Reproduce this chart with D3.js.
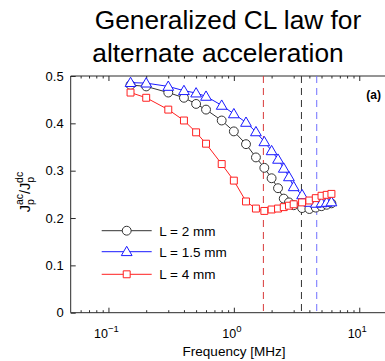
<!DOCTYPE html>
<html>
<head>
<meta charset="utf-8">
<script src="https://cdn.jsdelivr.net/npm/d3@7"></script>
<style>
  html, body { margin: 0; padding: 0; background: #fff; }
  svg { display: block; font-family: "Liberation Sans", Arial, Helvetica, sans-serif; }
</style>
</head>
<body>
<svg id="chart" width="385" height="361"></svg>
<script>
// Drive frequency (MHz) for every sample
const freq = [0.15, 0.2, 0.3, 0.4, 0.5, 0.6, 0.8, 1, 1.25, 1.5, 1.75, 2, 2.25, 2.5, 2.75, 3, 3.5, 4, 4.5, 5, 5.5, 6];

// Ratio Jp(ac)/Jp(dc) for each gap length
const ratioL2 = [0.481, 0.478, 0.465, 0.454, 0.441, 0.429, 0.406, 0.383, 0.356, 0.328, 0.306, 0.284, 0.263, 0.241, 0.233, 0.227, 0.221, 0.219, 0.222, 0.225, 0.228, 0.231];
const ratioL15 = [0.486, 0.485, 0.478, 0.469, 0.464, 0.457, 0.438, 0.420, 0.402, 0.382, 0.361, 0.342, 0.324, 0.305, 0.287, 0.266, 0.249, 0.233, 0.231, 0.232, 0.233, 0.234];
const ratioL4 = [0.465, 0.454, 0.429, 0.406, 0.381, 0.357, 0.314, 0.279, 0.235, 0.220, 0.215, 0.218, 0.220, 0.223, 0.226, 0.229, 0.233, 0.237, 0.242, 0.247, 0.249, 0.251];

const seriesNames = ["L = 2 mm", "L = 1.5 mm", "L = 4 mm"];

// Cut-off frequencies marked with dashed lines (MHz)
const cutoffFreq = [1.72, 3.46, 4.58];

const yTicks = [0, 0.1, 0.2, 0.3, 0.4, 0.5];
const yTickLabels = ["0", "0.1", "0.2", "0.3", "0.4", "0.5"];
const xDecades = [0.1, 1, 10];
const xDecadeExp = ["\u22121", "0", "1"];

const titleLines = ["Generalized CL law for", "alternate acceleration"];
const xLabel = "Frequency [MHz]";
const panelTag = "(a)";

const svg = d3.select("#chart");
const plotLeft = 70.7, plotRight = 397, plotTop = 76, plotBottom = 312.7;

const x = d3.scaleLog().domain([0.05, 20]).range([plotLeft, plotRight]);
const y = d3.scaleLinear().domain([0, 0.5]).range([plotBottom, plotTop]);

const axisColor = "#2b2b2b";

// minor log ticks (2..9 per decade)
const minorTicks = [];
[0.01, 0.1, 1, 10].forEach(d => { for (let k = 2; k <= 9; k++) { const v = d * k; if (v > 0.05 && v < 20) minorTicks.push(v); } });

function styleAxis(g) {
  g.select(".domain").remove();
  g.selectAll("line").attr("stroke", axisColor).attr("stroke-width", 1);
}

// bottom axis
svg.append("g").attr("transform", `translate(0,${plotBottom})`)
  .call(d3.axisBottom(x).tickValues(xDecades).tickSize(-5).tickFormat(""))
  .call(styleAxis);
svg.append("g").attr("transform", `translate(0,${plotBottom})`)
  .call(d3.axisBottom(x).tickValues(minorTicks).tickSize(-2.5).tickFormat(""))
  .call(styleAxis);
// top axis
svg.append("g").attr("transform", `translate(0,${plotTop})`)
  .call(d3.axisTop(x).tickValues(xDecades).tickSize(-5).tickFormat(""))
  .call(styleAxis);
svg.append("g").attr("transform", `translate(0,${plotTop})`)
  .call(d3.axisTop(x).tickValues(minorTicks).tickSize(-2.5).tickFormat(""))
  .call(styleAxis);
// left axis
const yAxisG = svg.append("g").attr("transform", `translate(${plotLeft},0)`)
  .call(d3.axisLeft(y).tickValues(yTicks).tickSize(-5).tickPadding(7)
    .tickFormat((d, i) => yTickLabels[i]))
  .call(styleAxis);
yAxisG.selectAll("text").attr("font-size", 13).attr("fill", "#000")
  .attr("font-family", "'Liberation Sans', Arial, sans-serif");

// frame lines
svg.append("line").attr("x1", plotLeft).attr("x2", plotRight).attr("y1", plotBottom).attr("y2", plotBottom)
  .attr("stroke", axisColor).attr("stroke-width", 1);
svg.append("line").attr("x1", plotLeft).attr("x2", plotRight).attr("y1", plotTop).attr("y2", plotTop)
  .attr("stroke", axisColor).attr("stroke-width", 1);
svg.append("line").attr("x1", plotLeft).attr("x2", plotLeft).attr("y1", plotTop).attr("y2", plotBottom)
  .attr("stroke", axisColor).attr("stroke-width", 1);

// decade labels 10^n
xDecades.forEach((d, i) => {
  const t = svg.append("text").attr("x", x(d) - 2).attr("y", 338)
    .attr("text-anchor", "middle").attr("font-size", 12.5).attr("fill", "#000");
  t.append("tspan").text("10");
  t.append("tspan").attr("dy", -6).attr("font-size", 9.5).text(xDecadeExp[i]);
});

// x label
svg.append("text").attr("x", 234).attr("y", 356).attr("text-anchor", "middle")
  .attr("font-size", 13.5).attr("fill", "#000").text(xLabel);

// y label  J_p^ac / J_p^dc
const yl = svg.append("text").attr("transform", "translate(30,192) rotate(-90)")
  .attr("text-anchor", "middle").attr("font-size", 14.5).attr("fill", "#000");
yl.append("tspan").text("J");
yl.append("tspan").attr("font-size", 10.5).attr("dy", 4).text("p");
yl.append("tspan").attr("font-size", 10.5).attr("dx", -6).attr("dy", -11).text("ac");
yl.append("tspan").attr("dy", 7).text("/J");
yl.append("tspan").attr("font-size", 10.5).attr("dy", 4).text("p");
yl.append("tspan").attr("font-size", 10.5).attr("dx", -6).attr("dy", -11).text("dc");

// title
titleLines.forEach((s, i) => {
  svg.append("text").attr("x", i === 0 ? 228 : 218).attr("y", 29 + i * 33)
    .attr("text-anchor", "middle").attr("font-size", 26.3).attr("fill", "#000").text(s);
});

// panel tag
svg.append("text").attr("x", 381).attr("y", 99).attr("text-anchor", "end")
  .attr("font-size", 12).attr("font-weight", "bold").attr("fill", "#000").text(panelTag);

// dashed cut-off markers
const cutColors = ["#d83a3a", "#333333", "#7070ff"];
cutoffFreq.forEach((f, i) => {
  svg.append("line").attr("x1", x(f)).attr("x2", x(f)).attr("y1", plotTop).attr("y2", plotBottom)
    .attr("stroke", cutColors[i]).attr("stroke-width", 1).attr("stroke-dasharray", "7,5");
});

const series = [
  { vals: ratioL2, color: "#333333", marker: "circle" },
  { vals: ratioL15, color: "#1a1aff", marker: "triangle" },
  { vals: ratioL4, color: "#ff2020", marker: "square" }
];

const symbols = {
  circle: d3.symbol().type(d3.symbolCircle).size(62),
  triangle: d3.symbol().type(d3.symbolTriangle).size(50),
  square: d3.symbol().type(d3.symbolSquare).size(48)
};

const line = d3.line().x(d => x(d[0])).y(d => y(d[1]));

series.forEach(s => {
  const pts = freq.map((f, i) => [f, s.vals[i]]);
  const g = svg.append("g");
  g.append("path").attr("d", line(pts)).attr("fill", "none")
    .attr("stroke", s.color).attr("stroke-width", 1);
  g.selectAll("path.m").data(pts).enter().append("path").attr("class", "m")
    .attr("d", symbols[s.marker])
    .attr("transform", d => `translate(${x(d[0])},${y(d[1]) + (s.marker === "triangle" ? 0.8 : 0)})`)
    .attr("fill", "#fff").attr("stroke", s.color).attr("stroke-width", 1);
});

// legend
const legY = [230.7, 251.7, 274.3];
series.forEach((s, i) => {
  const g = svg.append("g");
  g.append("line").attr("x1", 101.7).attr("x2", 151.7).attr("y1", legY[i]).attr("y2", legY[i])
    .attr("stroke", s.color).attr("stroke-width", 1);
  g.append("path").attr("d", symbols[s.marker])
    .attr("transform", `translate(126.7,${legY[i] + (s.marker === "triangle" ? 0.8 : 0)})`)
    .attr("fill", "#fff").attr("stroke", s.color).attr("stroke-width", 1);
  g.append("text").attr("x", 159.3).attr("y", legY[i] + 5).attr("font-size", 13.5)
    .attr("fill", "#000").text(seriesNames[i]);
});
</script>
</body>
</html>
